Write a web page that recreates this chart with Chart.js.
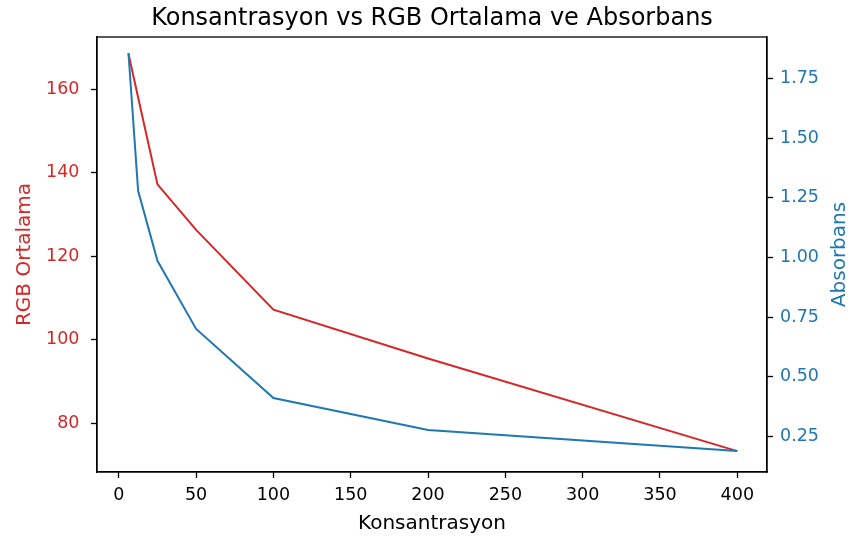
<!DOCTYPE html>
<html><head><meta charset="utf-8">
<script src="https://cdn.jsdelivr.net/npm/chart.js@4.4.0/dist/chart.umd.min.js"></script>
<style>html,body{margin:0;padding:0;background:#fff}</style>
</head><body>
<canvas id="c" width="850" height="540"></canvas>
<script>
const konsantrasyon = [6.25, 12.5, 25, 50, 100, 200, 400];
const rgbOrtalama = [168.5, 158.0, 137.2, 126.3, 107.2, 95.5, 73.3];
const absorbans = [1.859, 1.28, 0.986, 0.70, 0.41, 0.275, 0.187];
const xTicks = [0, 50, 100, 150, 200, 250, 300, 350, 400];
const rgbTicks = [80, 100, 120, 140, 160];
const absTicks = [0.25, 0.50, 0.75, 1.00, 1.25, 1.50, 1.75];

const RED = '#d62728', BLUE = '#1f77b4';
Chart.defaults.font.family = "'DejaVu Sans'";
Chart.defaults.color = '#000';

const framePlugin = {
  id: 'frame',
  afterDatasetsDraw(chart) {
    const {ctx, chartArea: a} = chart;
    ctx.save();
    ctx.strokeStyle = '#000';
    ctx.lineWidth = 1.3;
    ctx.strokeRect(a.left, a.top, a.right - a.left, a.bottom - a.top);
    ctx.restore();
  },
  afterDraw(chart) {
    const {ctx, chartArea: a} = chart;
    ctx.save();
    ctx.fillStyle = BLUE;
    ctx.font = "20px 'DejaVu Sans'";
    ctx.textAlign = 'center';
    ctx.textBaseline = 'middle';
    ctx.translate(840, (a.top + a.bottom) / 2);
    ctx.rotate(-Math.PI / 2);
    ctx.fillText('Absorbans', 0, 0);
    ctx.restore();
  }
};

const gridOpts = {display: true, drawOnChartArea: false, drawTicks: true, tickLength: 6, tickColor: '#000', tickWidth: 1.3};

new Chart(document.getElementById('c'), {
  type: 'line',
  data: {
    datasets: [
      {
        label: 'RGB Ortalama',
        data: konsantrasyon.map((x, i) => ({x, y: rgbOrtalama[i]})),
        borderColor: RED, backgroundColor: RED, borderWidth: 2,
        pointRadius: 0, tension: 0, yAxisID: 'y', order: 1
      },
      {
        label: 'Absorbans',
        data: konsantrasyon.map((x, i) => ({x, y: absorbans[i]})),
        borderColor: BLUE, backgroundColor: BLUE, borderWidth: 2,
        pointRadius: 0, tension: 0, yAxisID: 'y1', order: 0
      }
    ]
  },
  options: {
    responsive: false,
    animation: false,
    layout: {padding: 0},
    plugins: {
      legend: {display: false},
      tooltip: {enabled: false},
      title: {
        display: true, fullSize: false,
        text: 'Konsantrasyon vs RGB Ortalama ve Absorbans',
        color: '#000',
        font: {size: 24, weight: 'normal'},
        padding: {top: 4, bottom: 4.2}
      }
    },
    scales: {
      x: {
        type: 'linear', position: 'bottom', min: -14.1, max: 419.2,
        afterFit(s) { s.height = 68; },
        afterBuildTicks(s) { s.ticks = xTicks.map(v => ({value: v})); },
        grid: gridOpts,
        border: {display: true, color: '#000', width: 1.3},
        ticks: {color: '#000', font: {size: 17.5}, padding: 7, maxRotation: 0, autoSkip: false},
        title: {display: true, text: 'Konsantrasyon', color: '#000', font: {size: 20}, padding: {top: 0, bottom: 4}}
      },
      y: {
        type: 'linear', position: 'left', min: 68.3, max: 172.5,
        afterFit(s) { s.width = 97; },
        afterBuildTicks(s) { s.ticks = rgbTicks.map(v => ({value: v})); },
        grid: gridOpts,
        border: {display: true, color: '#000', width: 1.3},
        ticks: {color: RED, font: {size: 17.5}, padding: 11.5, autoSkip: false},
        title: {display: true, text: 'RGB Ortalama', color: RED, font: {size: 20}, padding: {top: 13, bottom: 0}}
      },
      y1: {
        type: 'linear', position: 'right', min: 0.099, max: 1.926,
        afterFit(s) { s.width = 83; },
        afterBuildTicks(s) { s.ticks = absTicks.map(v => ({value: v})); },
        grid: gridOpts,
        border: {display: true, color: '#000', width: 1.3},
        ticks: {color: BLUE, font: {size: 17.5}, padding: 7, autoSkip: false,
          callback: v => Number(v).toFixed(2)},
        title: {display: false}
      }
    }
  },
  plugins: [framePlugin]
});
</script>
</body></html>
